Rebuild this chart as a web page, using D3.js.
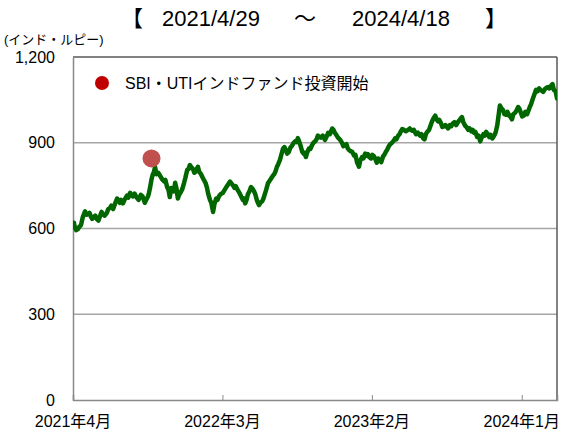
<!DOCTYPE html>
<html><head><meta charset="utf-8">
<script src="https://cdn.jsdelivr.net/npm/d3@7/dist/d3.min.js"></script>
<style>
html,body{margin:0;padding:0;background:#fff;}
svg{display:block;}
text{font-family:"Liberation Sans","Noto Sans CJK JP",sans-serif;fill:#000;}
</style></head>
<body><svg id="c" width="564" height="433"></svg>
<script>
const dates = ["2021-04-29","2021-05-03","2021-05-10","2021-05-17","2021-05-26","2021-06-02","2021-06-08","2021-06-15","2021-06-22","2021-06-29","2021-07-05","2021-07-14","2021-07-21","2021-07-28","2021-08-06","2021-08-12","2021-08-19","2021-08-28","2021-09-04","2021-09-10","2021-09-19","2021-09-28","2021-10-07","2021-10-14","2021-10-19","2021-10-25","2021-10-30","2021-11-06","2021-11-12","2021-11-19","2021-11-26","2021-12-02","2021-12-09","2021-12-14","2021-12-20","2021-12-27","2022-01-03","2022-01-10","2022-01-16","2022-01-23","2022-01-30","2022-02-03","2022-02-10","2022-02-17","2022-02-23","2022-03-02","2022-03-09","2022-03-16","2022-03-22","2022-03-31","2022-04-09","2022-04-16","2022-04-23","2022-04-29","2022-05-08","2022-05-15","2022-05-20","2022-05-26","2022-06-02","2022-06-09","2022-06-15","2022-06-20","2022-06-27","2022-07-03","2022-07-10","2022-07-17","2022-07-24","2022-07-30","2022-08-06","2022-08-13","2022-08-19","2022-08-26","2022-09-02","2022-09-09","2022-09-15","2022-09-22","2022-09-29","2022-10-03","2022-10-10","2022-10-17","2022-10-24","2022-10-30","2022-11-06","2022-11-15","2022-11-22","2022-12-01","2022-12-07","2022-12-14","2022-12-23","2022-12-30","2023-01-05","2023-01-12","2023-01-19","2023-01-26","2023-01-30","2023-02-06","2023-02-13","2023-02-19","2023-02-26","2023-03-05","2023-03-11","2023-03-18","2023-03-25","2023-04-01","2023-04-07","2023-04-14","2023-04-21","2023-04-28","2023-05-04","2023-05-11","2023-05-20","2023-05-29","2023-06-07","2023-06-16","2023-06-23","2023-06-29","2023-07-06","2023-07-13","2023-07-20","2023-07-26","2023-08-02","2023-08-09","2023-08-15","2023-08-22","2023-08-29","2023-09-05","2023-09-12","2023-09-18","2023-09-25","2023-10-02","2023-10-09","2023-10-15","2023-10-22","2023-10-29","2023-11-05","2023-11-11","2023-11-18","2023-11-25","2023-12-01","2023-12-06","2023-12-12","2023-12-19","2023-12-26","2024-01-02","2024-01-08","2024-01-15","2024-01-22","2024-01-28","2024-02-04","2024-02-11","2024-02-17","2024-02-24","2024-03-02","2024-03-09","2024-03-15","2024-03-22","2024-03-29","2024-04-05","2024-04-11","2024-04-18"];
const navValues = [615,605,598,612,660,650,642,640,632,645,650,655,672,668,705,690,688,715,725,712,708,718,690,712,745,790,815,795,780,765,745,710,735,760,705,728,760,805,822,808,800,816,790,768,745,700,658,705,712,725,748,764,750,748,722,700,688,720,745,730,700,682,695,720,758,775,790,815,840,880,875,868,890,905,916,885,860,850,880,892,905,925,918,910,935,950,935,918,900,892,880,870,855,830,816,850,862,860,845,852,830,838,852,870,888,900,915,925,940,945,945,942,930,925,915,930,945,975,995,975,968,958,955,962,968,962,978,990,960,945,940,935,920,905,930,938,920,915,930,960,1030,1015,998,995,982,1005,1025,1005,995,1000,1025,1055,1085,1090,1082,1088,1095,1100,1085,1055];
const midDates = ["2021-05-01","2021-05-06","2021-05-13","2021-05-21","2021-05-29","2021-06-05","2021-06-11","2021-06-18","2021-06-25","2021-07-02","2021-07-09","2021-07-17","2021-07-24","2021-08-02","2021-08-09","2021-08-15","2021-08-23","2021-08-31","2021-09-07","2021-09-14","2021-09-23","2021-10-02","2021-10-10","2021-10-16","2021-10-22","2021-10-27","2021-11-02","2021-11-09","2021-11-15","2021-11-22","2021-11-29","2021-12-05","2021-12-11","2021-12-17","2021-12-23","2021-12-30","2022-01-06","2022-01-13","2022-01-19","2022-01-26","2022-02-01","2022-02-06","2022-02-13","2022-02-20","2022-02-26","2022-03-05","2022-03-12","2022-03-19","2022-03-26","2022-04-04","2022-04-12","2022-04-19","2022-04-26","2022-05-03","2022-05-11","2022-05-17","2022-05-23","2022-05-29","2022-06-05","2022-06-12","2022-06-17","2022-06-23","2022-06-30","2022-07-06","2022-07-13","2022-07-20","2022-07-27","2022-08-02","2022-08-09","2022-08-16","2022-08-22","2022-08-29","2022-09-05","2022-09-12","2022-09-18","2022-09-25","2022-10-01","2022-10-06","2022-10-13","2022-10-20","2022-10-27","2022-11-02","2022-11-10","2022-11-18","2022-11-26","2022-12-04","2022-12-10","2022-12-18","2022-12-26","2023-01-02","2023-01-08","2023-01-15","2023-01-22","2023-01-28","2023-02-02","2023-02-09","2023-02-16","2023-02-22","2023-03-01","2023-03-08","2023-03-14","2023-03-21","2023-03-28","2023-04-04","2023-04-10","2023-04-17","2023-04-24","2023-05-01","2023-05-07","2023-05-15","2023-05-24","2023-06-02","2023-06-11","2023-06-19","2023-06-26","2023-07-02","2023-07-09","2023-07-16","2023-07-23","2023-07-29","2023-08-05","2023-08-12","2023-08-18","2023-08-25","2023-09-01","2023-09-08","2023-09-15","2023-09-21","2023-09-28","2023-10-05","2023-10-12","2023-10-18","2023-10-25","2023-11-01","2023-11-08","2023-11-14","2023-11-21","2023-11-28","2023-12-03","2023-12-09","2023-12-15","2023-12-22","2023-12-29","2024-01-05","2024-01-11","2024-01-18","2024-01-25","2024-01-31","2024-02-07","2024-02-14","2024-02-20","2024-02-27","2024-03-05","2024-03-12","2024-03-18","2024-03-25","2024-04-01","2024-04-08","2024-04-15"];
const midValues = [620,594,606,640,648,655,634,645,628,658,645,668,680,690,698,700,702,708,718,722,700,712,700,722,772,796,790,788,772,770,735,742,730,740,718,738,778,808,815,795,810,798,780,760,722,690,685,700,720,735,755,758,742,735,712,705,700,728,740,718,692,690,705,735,765,782,800,825,858,885,862,882,898,902,905,868,865,866,878,900,912,920,925,920,930,945,928,912,888,895,874,868,858,824,838,845,855,850,858,842,845,832,858,878,895,905,912,930,948,940,950,945,935,930,912,938,958,985,982,980,955,962,950,958,972,970,985,972,955,950,945,938,925,918,925,932,928,922,940,995,1022,1000,1008,990,1000,1012,1018,992,1008,1012,1035,1068,1080,1084,1078,1092,1090,1105,1080];
const yTicks = [0,300,600,900,1200];
const xTickDates = ["2021-04-29","2022-03-30","2023-02-28","2024-01-30"];
const periodStart = "2021/4/29";
const periodEnd = "2024/4/18";
const unitLabel = "(インド・ルピー)";
const eventLabel = "SBI・UTIインドファンド投資開始";
const eventDate = "2021-10-22";
const eventValue = 845;

const parse = d3.timeParse("%Y-%m-%d");
const svg = d3.select("#c");
const L = 73, R = 557, T = 57, B = 400;
const x = d3.scaleTime().domain([parse(dates[0]), parse(dates[dates.length-1])]).range([L, R]);
const y = d3.scaleLinear().domain([0, 1200]).range([B, T]);

// gridlines
svg.append("g").selectAll("line").data(yTicks.filter(v => v > 0 && v < 1200)).join("line")
  .attr("x1", L).attr("x2", R).attr("y1", d => y(d)).attr("y2", d => y(d))
  .attr("stroke", "#a6a6a6").attr("stroke-width", 1.5);

// frame: top and right
svg.append("line").attr("x1", L).attr("x2", R).attr("y1", T).attr("y2", T).attr("stroke", "#595959").attr("stroke-width", 1.5);
svg.append("line").attr("x1", R).attr("x2", R).attr("y1", T).attr("y2", B).attr("stroke", "#595959").attr("stroke-width", 1.5);

// y axis
const yAxis = svg.append("g").attr("transform", `translate(${L},0)`)
  .call(d3.axisLeft(y).tickValues(yTicks).tickSize(0).tickPadding(18).tickFormat(d3.format(",")));
yAxis.select(".domain").attr("stroke", "#898989").attr("stroke-width", 1.5);
yAxis.selectAll("text").style("font-size", "16px").attr("fill", "#000");

// x axis
const xAxis = svg.append("g").attr("transform", `translate(0,${B})`)
  .call(d3.axisTop(x).tickValues(xTickDates.map(parse)).tickSize(5).tickFormat(""));
xAxis.select(".domain").attr("stroke", "#898989").attr("stroke-width", 1.5);
xAxis.selectAll(".tick line").attr("stroke", "#898989").attr("stroke-width", 1);
svg.append("g").selectAll("text").data(xTickDates).join("text")
  .attr("x", d => x(parse(d))).attr("y", 427).attr("text-anchor", "middle")
  .style("font-size", "16px").text(d => d3.timeFormat("%Y年%-m月")(parse(d)));

// clip
svg.append("clipPath").attr("id", "clip").append("rect").attr("x", L).attr("y", T).attr("width", R - L).attr("height", B - T);

// line
const series = dates.map((d, i) => ({ d: parse(d), v: navValues[i] }))
  .concat(midDates.map((d, i) => ({ d: parse(d), v: midValues[i] })))
  .sort((a, b) => a.d - b.d);
svg.append("path").datum(series).attr("clip-path", "url(#clip)")
  .attr("fill", "none").attr("stroke", "#006600").attr("stroke-width", 4.5)
  .attr("stroke-linejoin", "round").attr("stroke-linecap", "round")
  .attr("d", d3.line().x(p => x(p.d)).y(p => y(p.v)));

// event marker
svg.append("circle").attr("cx", x(parse(eventDate))).attr("cy", y(eventValue)).attr("r", 9)
  .attr("fill", "#c0504d");

// legend
svg.append("circle").attr("cx", 102).attr("cy", 83).attr("r", 7).attr("fill", "#c00000");
svg.append("text").attr("x", 125).attr("y", 89).style("font-size", "16px").text(eventLabel);

// unit label
svg.append("text").attr("x", 4).attr("y", 44).style("font-size", "13px").text(unitLabel);

// title
const tg = svg.append("g").style("font-size", "22px");
tg.append("text").attr("x", 121).attr("y", 26).text("【");
tg.append("text").attr("x", 162).attr("y", 26).text(periodStart);
tg.append("text").attr("x", 294).attr("y", 26).text("～");
tg.append("text").attr("x", 352).attr("y", 26).text(periodEnd);
tg.append("text").attr("x", 485).attr("y", 26).text("】");
</script></body></html>
